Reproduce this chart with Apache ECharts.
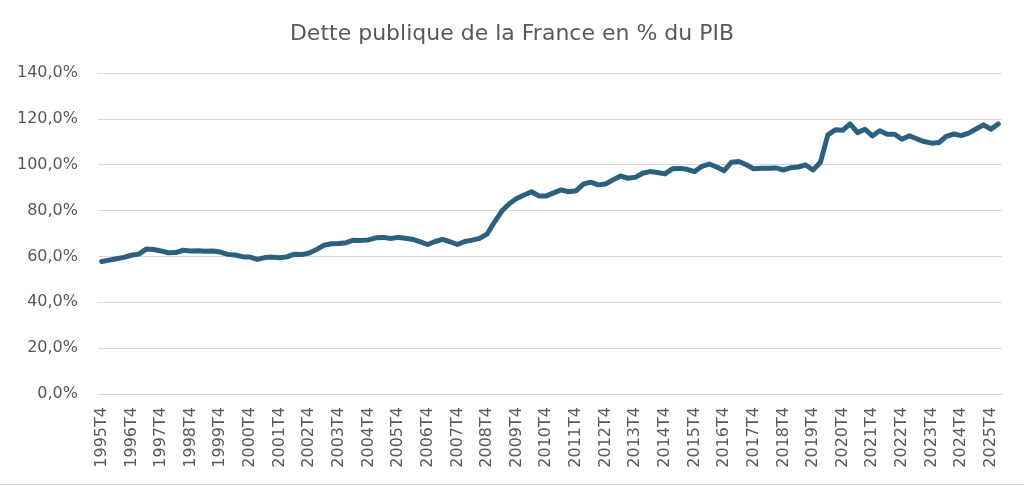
<!DOCTYPE html>
<html>
<head>
<meta charset="utf-8">
<script src="https://cdn.jsdelivr.net/npm/echarts@6/dist/echarts.min.js"></script>
<style>
  html, body { margin: 0; padding: 0; background: #fff; }
  #chart { width: 1024px; height: 486px; }
</style>
</head>
<body>
<div id="chart"></div>
<script>
// Dette publique (Maastricht) en % du PIB, trimestriel, 1995T4 -> 2026T1
const debtRatio = [
  57.8, 58.4, 59.0, 59.6,
  60.5, 61.0, 63.2, 63.0,
  62.4, 61.6, 61.7, 62.7,
  62.4, 62.5, 62.3, 62.4,
  61.9, 60.9, 60.6, 59.9,
  59.7, 58.7, 59.5, 59.7,
  59.4, 59.8, 61.0, 60.8,
  61.5, 63.0, 64.9, 65.5,
  65.6, 66.0, 67.1, 67.0,
  67.2, 68.1, 68.3, 67.8,
  68.3, 67.9, 67.4, 66.3,
  65.2, 66.5, 67.4, 66.4,
  65.2, 66.5, 67.1, 67.9,
  69.7, 75.0, 79.8, 83.0,
  85.3, 86.8, 88.2, 86.4,
  86.4, 87.7, 89.0, 88.2,
  88.6, 91.5, 92.4, 91.2,
  91.6, 93.4, 95.1, 94.1,
  94.5, 96.3, 97.0, 96.6,
  96.0, 98.2, 98.4, 98.0,
  97.0, 99.3, 100.3, 99.0,
  97.4, 101.1, 101.4, 100.0,
  98.2, 98.5, 98.5, 98.6,
  97.7, 98.7, 99.0, 99.9,
  97.7, 101.1, 113.0, 115.2,
  115.0, 117.8, 114.0, 115.5,
  112.6, 114.8, 113.3, 113.3,
  111.1, 112.6, 111.3, 110.1,
  109.4, 109.7, 112.4, 113.4,
  112.7, 113.8, 115.6, 117.4,
  115.5, 117.8
]

// libellés trimestriels, premier point = 1995T4
const firstYear = 1995
const firstQuarter = 4
const quarters = debtRatio.map((v, i) => {
  const k = firstQuarter - 1 + i
  return (firstYear + Math.floor(k / 4)) + 'T' + ((k % 4) + 1)
})

const yTicks = [0, 20, 40, 60, 80, 100, 120, 140]

const chart = echarts.init(document.getElementById('chart'))
const textColor = '#595959'
const font = 'DejaVu Sans'

chart.setOption({
  animation: false,
  title: {
    text: 'Dette publique de la France en % du PIB',
    left: 'center',
    top: 18,
    textStyle: {
      color: textColor,
      fontSize: 22,
      fontWeight: 'normal',
      fontFamily: font
    }
  },
  // filet gris en bas du cadre
  graphic: [
    {
      type: 'line',
      shape: { x1: 0, y1: 484.5, x2: 1024, y2: 484.5 },
      style: { stroke: '#d9d9d9', lineWidth: 1 }
    }
  ],
  grid: {
    left: 98,
    right: 22,
    top: 73,
    bottom: 92
  },
  xAxis: {
    type: 'category',
    data: quarters,
    boundaryGap: true,
    axisLine: { lineStyle: { color: '#d9d9d9', width: 1 } },
    axisTick: { show: false },
    axisLabel: {
      interval: 3, // un libellé sur 4
      rotate: 90,
      margin: 13,
      color: textColor,
      fontSize: 16,
      fontFamily: font
    }
  },
  yAxis: {
    type: 'value',
    min: yTicks[0],
    max: yTicks[yTicks.length - 1],
    interval: 20,
    axisLine: { show: false },
    axisTick: { show: false },
    splitLine: { lineStyle: { color: '#d9d9d9', width: 1 } },
    axisLabel: {
      margin: 20,
      color: textColor,
      fontSize: 16,
      fontFamily: font,
      formatter: (v) => v.toFixed(1).replace('.', ',') + '%'
    }
  },
  series: [
    {
      type: 'line',
      data: debtRatio,
      symbol: 'none',
      smooth: false,
      lineStyle: {
        color: '#2d5f7f',
        width: 5,
        cap: 'round',
        join: 'round'
      }
    }
  ]
})
</script>
</body>
</html>
